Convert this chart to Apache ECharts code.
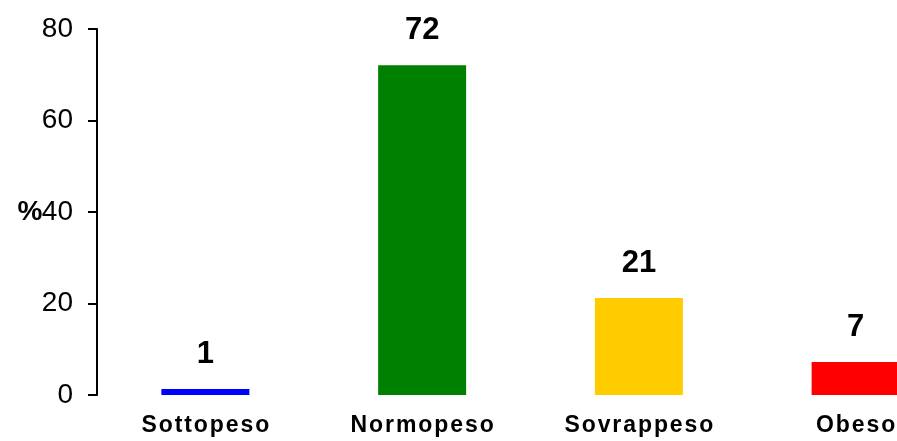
<!DOCTYPE html>
<html lang="it">
<head>
    <meta charset="UTF-8">
    <title>IMC</title>
    <script src="https://cdn.jsdelivr.net/npm/echarts@6/dist/echarts.min.js"></script>
    <style>
        html, body { margin: 0; padding: 0; background: #fff; }
        #chart { width: 897px; height: 441px; }
    </style>
</head>
<body>
<div id="chart"></div>
<script>
    // dati
    var categorie = ['Sottopeso', 'Normopeso', 'Sovrappeso', 'Obeso'];
    var valori = [1.3, 72.1, 21.2, 7.2];
    var etichette = ['1', '72', '21', '7'];
    var colori = ['#0000FF', '#008000', '#FFCC00', '#FF0000'];
    var tickY = [0, 20, 40, 60, 80];

    var font = '"Liberation Sans", Arial, sans-serif';
    var chart = echarts.init(document.getElementById('chart'));

    var dati = valori.map(function (v, i) {
        return { value: v, itemStyle: { color: colori[i] } };
    });

    chart.setOption({
        animation: false,
        // il grafico originale e' tagliato a destra
        grid: { left: 97, width: 867, top: 29, bottom: 46, containLabel: false, outerBoundsMode: 'none' },
        xAxis: {
            type: 'category',
            data: categorie,
            axisLine: { show: false },
            axisTick: { show: false },
            axisLabel: {
                margin: 19,
                fontFamily: font,
                fontWeight: 'bold',
                fontSize: 23,
                color: '#000',
                formatter: function (v) { return v.split('').join('\u200A'); }
            }
        },
        yAxis: {
            type: 'value',
            min: tickY[0],
            max: tickY[tickY.length - 1],
            interval: 20,
            name: '%',
            nameLocation: 'middle',
            nameRotate: 0,
            nameGap: 67,
            nameMoveOverlap: false,
            nameTextStyle: {
                fontFamily: font, fontWeight: 'bold', fontSize: 28, color: '#000',
                align: 'center', verticalAlign: 'middle'
            },
            axisLine: { show: true, lineStyle: { color: '#000', width: 2 } },
            axisTick: { show: true, length: 9, lineStyle: { color: '#000', width: 2 } },
            splitLine: { show: false },
            axisLabel: { margin: 24, fontFamily: font, fontSize: 28, color: '#000' }
        },
        series: [{
            type: 'bar',
            data: dati,
            barWidth: 88,
            label: {
                show: true,
                position: 'top',
                distance: 19,
                fontFamily: font,
                fontWeight: 'bold',
                fontSize: 31,
                color: '#000',
                formatter: function (p) { return etichette[p.dataIndex]; }
            }
        }]
    });
</script>
</body>
</html>
